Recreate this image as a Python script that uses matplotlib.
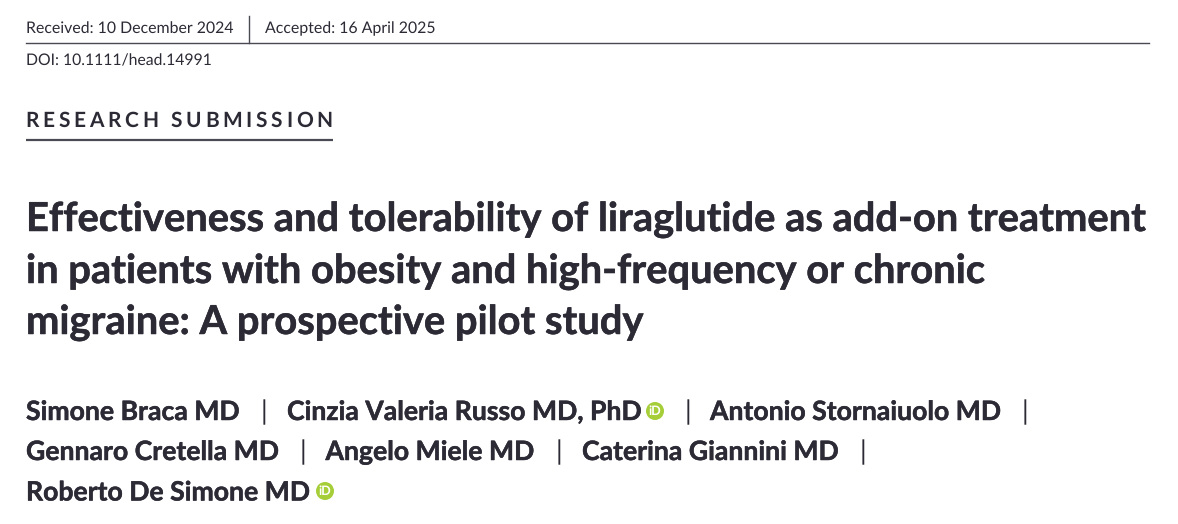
import matplotlib
matplotlib.use('Agg')
import matplotlib.pyplot as plt
import matplotlib.patheffects as pe
from matplotlib.patches import Circle

plt.rcParams['text.hinting'] = 'no_hinting'

W, H = 1178, 524
INK = '#2b2a35'
RULE = '#4a4a54'
GREEN = '#a6ce39'

header_left = 'Received: 10 December 2024'
header_right = 'Accepted: 16 April 2025'
doi = 'DOI: 10.1111/head.14991'
section = 'RESEARCH SUBMISSION'
title_lines = ['Effectiveness and tolerability of liraglutide as add-on treatment',
               'in patients with obesity and high-frequency or chronic',
               'migraine: A prospective pilot study']
# (text, left x, baseline y)
authors = [('Simone Braca MD', 26, 420), ('|', 261, 420), ('Cinzia Valeria Russo MD, PhD', 287, 420),
           ('|', 685, 420), ('Antonio Stornaiuolo MD', 710, 420), ('|', 1022, 420),
           ('Gennaro Cretella MD', 26, 460), ('|', 300, 460), ('Angelo Miele MD', 325.5, 460),
           ('|', 556, 460), ('Caterina Giannini MD', 582, 460), ('|', 860, 460),
           ('Roberto De Simone MD', 26, 500.5)]
orcid = [(655, 411), (325, 491)]

fig = plt.figure(figsize=(W/100, H/100), dpi=100)
ax = fig.add_axes([0, 0, 1, 1])
ax.set_xlim(0, W)
ax.set_ylim(H, 0)
ax.axis('off')

def put(x, y, s, size, weight='normal', **kw):
    return ax.text(x, y, s, fontsize=size, fontweight=weight, family='Lato', color=INK, va='baseline', **kw)

# thin stroke, the bold in the reference is a little heavier
heavy = [pe.withStroke(linewidth=0.35, foreground=INK)]

put(26, 33, header_left, 11.4)
put(265, 33, header_right, 11.4)
ax.plot([249, 249], [16, 43], color=RULE, lw=1)
ax.plot([26, 1149], [43, 43], color=RULE, lw=1)
put(26, 65.5, doi, 11.3)

# letter spaced heading, placed char by char
x = 25.5
r = fig.canvas.get_renderer()
for ch in section:
    t = ax.text(x, 127, ch, fontsize=15, fontweight='bold', family='Lato', color=INK, va='baseline')
    w = t.get_window_extent(r).width if ch != ' ' else 5
    x += w + 3.7
ax.plot([26, 333], [140, 140], color=RULE, lw=1.6, solid_capstyle='butt')

for s, y in zip(title_lines, [231, 283, 334]):
    put(26, y, s, 28.7, 'bold', path_effects=heavy)

for s, xa, y in authors:
    if s == '|':
        put(xa, y, s, 19.15)
    else:
        put(xa, y, s, 19.15, 'bold', path_effects=heavy)

for c in orcid:
    ax.add_patch(Circle(c, 9, color=GREEN, lw=0))
    ax.text(c[0], c[1]+0.5, 'iD', fontsize=9, color='white', family='Lato', fontweight='bold', ha='center', va='center')

fig.savefig('out.png', dpi=100)
